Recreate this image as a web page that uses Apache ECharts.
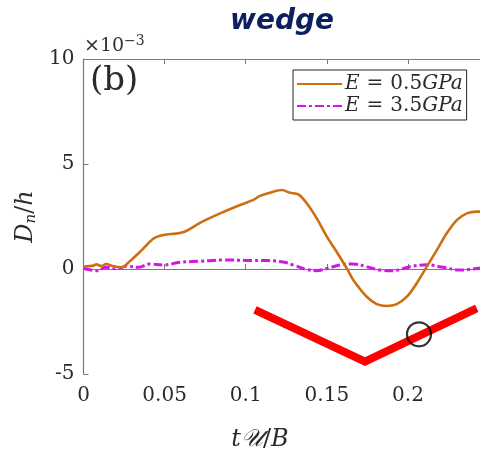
<!DOCTYPE html>
<html><head><meta charset="utf-8">
<script src="https://cdn.jsdelivr.net/npm/echarts@6/dist/echarts.min.js"></script>
<style>html,body{margin:0;padding:0;background:#fff}#c{width:480px;height:470px}</style>
</head><body><div id="c"></div>
<script>
// Data (y values in units of 1e-3)
const softX = [0,0.006,0.008,0.011,0.014,0.018,0.0235,0.0287,0.0359,0.043,0.0492,0.0585,0.0636,0.0718,0.0842,0.0965,0.1047,0.1088,0.117,0.1222,0.1273,0.1324,0.1376,0.1438,0.15,0.156,0.1623,0.1663,0.1746,0.1808,0.1869,0.1931,0.1993,0.2054,0.2116,0.2178,0.2239,0.2301,0.2363,0.2424,0.2444];
const softY = [0.11,0.16,0.22,0.14,0.24,0.14,0.08,0.38,0.9,1.44,1.62,1.70,1.82,2.2,2.65,3.05,3.29,3.48,3.68,3.76,3.63,3.55,3.13,2.41,1.54,0.82,0.03,-0.52,-1.32,-1.67,-1.76,-1.67,-1.32,-0.68,0.11,0.9,1.7,2.33,2.65,2.73,2.73];
const stiffX = [0,0.008,0.014,0.0205,0.0266,0.0338,0.041,0.0492,0.0595,0.0718,0.0862,0.1006,0.113,0.1232,0.1293,0.1376,0.1438,0.15,0.158,0.1663,0.1746,0.1828,0.191,0.2013,0.2116,0.2218,0.2321,0.2444];
const stiffY = [0.03,-0.08,0.08,0,0.14,0.08,0.24,0.19,0.32,0.37,0.43,0.41,0.4,0.33,0.19,-0.02,-0.08,0.02,0.19,0.24,0.11,-0.05,-0.08,0.11,0.2,0.08,-0.05,0.05];
const wedgeX = [0.1057,0.1735,0.2424];
const wedgeY = [-1.95,-4.41,-1.87];
const markerX = [0.2068];
const markerY = [-3.11];
const xTicks = [0,0.05,0.1,0.15,0.2];
const yTicks = [-5,0,5,10];
const seriesNames = ['E = 0.5GPa','E = 3.5GPa'];

const zip = (a,b)=>a.map((v,i)=>[v,b[i]]);
const serif = 'DejaVu Serif';
const axisGray = '#7a7a7a';
const txt = '#2a2a2a';

const chart = echarts.init(document.getElementById('c'));
chart.setOption({
  animation:false,
  backgroundColor:'#fff',
  grid:{left:83.5,top:59,right:0,bottom:96},
  title:{text:'wedge',left:277,top:3,textAlign:'center',
    textStyle:{fontFamily:'DejaVu Sans',fontStyle:'italic',fontWeight:'bold',fontSize:28,color:'#0c1f5e'}},
  legend:{
    data:seriesNames,
    left:293,top:70,orient:'vertical',
    backgroundColor:'#fff',borderColor:'#222',borderWidth:1,borderRadius:0,
    padding:[4,4,4,3],itemGap:2,itemWidth:45,itemHeight:21,
    itemStyle:{opacity:0},
    formatter:(n)=>{const v=n.split('= ')[1].replace('GPa','');return '{i|E}{e|=}'+v+'{i|GPa}';},
    textStyle:{fontFamily:serif,fontSize:20,color:txt,padding:[0,0,0,-2],
      rich:{i:{fontFamily:serif,fontStyle:'italic',fontSize:20,color:txt},
            e:{fontFamily:serif,fontSize:20,color:txt,padding:[0,7,0,7]}}}
  },
  xAxis:[{
    type:'value',min:0,max:0.2444,interval:0.05,position:'bottom',
    axisLine:{lineStyle:{color:axisGray,width:1.2}},
    axisTick:{inside:true,length:5,lineStyle:{color:axisGray}},
    splitLine:{show:false},
    axisLabel:{fontFamily:serif,fontSize:20,color:txt,margin:12,showMaxLabel:false,
      formatter:(v)=>xTicks.some(t=>Math.abs(t-v)<1e-9)?String(+v.toFixed(2)):''}
  },{
    type:'value',min:0,max:0.2444,interval:0.05,position:'top',
    axisLine:{show:true,lineStyle:{color:axisGray,width:1.2}},
    axisTick:{show:true,inside:true,length:5,lineStyle:{color:axisGray}},
    axisLabel:{show:false},splitLine:{show:false}
  }],
  yAxis:{
    type:'value',min:-5,max:10,interval:5,
    axisLine:{show:true,lineStyle:{color:axisGray,width:1.2}},
    axisTick:{show:true,inside:true,length:5,lineStyle:{color:axisGray}},
    splitLine:{show:false},
    axisLabel:{fontFamily:serif,fontSize:20,color:txt,margin:9,
      formatter:(v)=>yTicks.includes(v)?String(v):''},
    name:'{i|D}{s|n}{r|/}{i|h}',nameLocation:'middle',nameRotate:90,nameGap:36,
    nameTextStyle:{rich:{
      i:{fontFamily:serif,fontStyle:'italic',fontSize:24,color:txt},
      r:{fontFamily:serif,fontSize:24,color:txt},
      s:{fontFamily:serif,fontStyle:'italic',fontSize:15,color:txt,verticalAlign:'bottom',padding:[10,0,0,0]}
    }}
  },
  graphic:[
    {type:'text',x:84,y:34,style:{
      text:'{a|×10}{b|−3}',
      rich:{a:{fontFamily:serif,fontSize:19,fill:'#333'},b:{fontFamily:serif,fontSize:14,fill:'#333',padding:[0,0,10,0]}}
    }},
    {type:'text',x:90,y:64,style:{text:'(b)',fontFamily:serif,fontSize:34,fill:txt}},
    {type:'text',x:260,y:440,style:{
      text:'{i|t𝒰}{r|/}{i|B}',textAlign:'center',textVerticalAlign:'middle',
      rich:{i:{fontFamily:serif,fontStyle:'italic',fontSize:24,fill:txt},r:{fontFamily:serif,fontSize:24,fill:txt}}
    }}
  ],
  series:[
    {name:seriesNames[0],type:'line',data:zip(softX,softY),symbol:'none',smooth:0.3,
      lineStyle:{color:'#cd6f10',width:2.6},itemStyle:{color:'#cd6f10'},z:3},
    {name:seriesNames[1],type:'line',data:zip(stiffX,stiffY),symbol:'none',smooth:0.4,
      lineStyle:{color:'#d414e8',width:3,type:[9,3,3,3]},itemStyle:{color:'#d414e8'},z:2},
    {name:'wedge',type:'line',data:zip(wedgeX,wedgeY),symbol:'none',
      lineStyle:{color:'#ff0000',width:8,cap:'butt',join:'miter'},z:4},
    {name:'marker',type:'scatter',data:zip(markerX,markerY),symbol:'circle',symbolSize:24,
      itemStyle:{color:'rgba(0,0,0,0)',borderColor:'#000',borderWidth:2.2},z:5}
  ]
});
</script></body></html>
